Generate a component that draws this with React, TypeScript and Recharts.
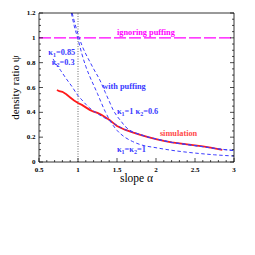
import React from 'react';
import { LineChart, Line, XAxis, YAxis, ReferenceLine, ReferenceDot } from 'recharts';

// ---- data ----
const simX = [0.73, 0.76, 0.8, 0.85, 0.9, 0.95, 1.0, 1.05, 1.1, 1.15, 1.2, 1.25, 1.3, 1.35, 1.4, 1.45, 1.5, 1.6, 1.7, 1.8, 1.9, 2.0, 2.1, 2.2, 2.3, 2.4, 2.5, 2.6, 2.7, 2.8, 2.85];
const simY = [0.58, 0.57, 0.565, 0.545, 0.52, 0.495, 0.475, 0.46, 0.44, 0.42, 0.405, 0.395, 0.38, 0.36, 0.34, 0.315, 0.29, 0.26, 0.238, 0.218, 0.2, 0.185, 0.17, 0.158, 0.15, 0.142, 0.134, 0.125, 0.115, 0.104, 0.098];

const k085X = [0.68, 0.72, 0.78, 0.85, 0.92, 1.0, 1.05, 1.1, 1.15, 1.2, 1.25, 1.3, 1.4, 1.5, 1.6, 1.7, 1.8, 1.9, 2.0, 2.2, 2.4, 2.6, 2.8, 3.0];
const k085Y = [0.83, 0.79, 0.735, 0.67, 0.61, 0.535, 0.5, 0.465, 0.435, 0.41, 0.39, 0.37, 0.335, 0.295, 0.262, 0.24, 0.22, 0.2, 0.185, 0.158, 0.14, 0.123, 0.105, 0.092];

const k06X = [0.925, 0.95, 1.0, 1.05, 1.1, 1.15, 1.2, 1.28, 1.35, 1.4, 1.45, 1.5, 1.55, 1.6, 1.65, 1.7, 1.8, 1.9, 2.0, 2.2, 2.4, 2.6, 2.8, 3.0];
const k06Y = [1.2, 1.14, 1.03, 0.94, 0.87, 0.81, 0.75, 0.66, 0.56, 0.49, 0.42, 0.37, 0.33, 0.29, 0.262, 0.243, 0.221, 0.201, 0.186, 0.159, 0.141, 0.124, 0.106, 0.093];

const k11X = [0.915, 0.95, 1.0, 1.05, 1.1, 1.15, 1.2, 1.25, 1.3, 1.35, 1.4, 1.45, 1.5, 1.6, 1.7, 1.8, 2.0, 2.25, 2.5, 2.75, 3.0];
const k11Y = [1.2, 1.1, 0.99, 0.87, 0.77, 0.69, 0.62, 0.55, 0.475, 0.405, 0.345, 0.295, 0.255, 0.2, 0.165, 0.14, 0.115, 0.09, 0.072, 0.058, 0.048];

const ignoringLevel = 1;
const slopeMarker = 1;

const xTicks = [0.5, 0.6, 0.7, 0.8, 0.9, 1.0, 1.1, 1.2, 1.3, 1.4, 1.5, 1.6, 1.7, 1.8, 1.9, 2.0, 2.1, 2.2, 2.3, 2.4, 2.5, 2.6, 2.7, 2.8, 2.9, 3.0];
const yTicks = [0, 0.05, 0.1, 0.15, 0.2, 0.25, 0.3, 0.35, 0.4, 0.45, 0.5, 0.55, 0.6, 0.65, 0.7, 0.75, 0.8, 0.85, 0.9, 0.95, 1.0, 1.05, 1.1, 1.15, 1.2];
const xMajor = [0.5, 1, 1.5, 2, 2.5, 3];
const yMajor = [0, 0.2, 0.4, 0.6, 0.8, 1, 1.2];

type Part = [string, boolean];
const annotations: { x: number; y: number; color: string; parts: Part[] }[] = [
  { x: 1.5, y: 1.024, color: '#ff00ff', parts: [['ignoring puffing', false]] },
  { x: 1.31, y: 0.59, color: '#3a3aff', parts: [['with puffing', false]] },
  { x: 1.5, y: 0.39, color: '#3a3aff', parts: [['κ', false], ['1', true], ['=1  κ', false], ['2', true], ['=0.6', false]] },
  { x: 2.05, y: 0.21, color: '#ff4a4a', parts: [['simulation', false]] },
  { x: 1.5, y: 0.08, color: '#3a3aff', parts: [['κ', false], ['1', true], ['=κ', false], ['2', true], ['=1', false]] },
  { x: 0.62, y: 0.862, color: '#3a3aff', parts: [['κ', false], ['1', true], ['=0.85', false]] },
  { x: 0.665, y: 0.785, color: '#3a3aff', parts: [['κ', false], ['2', true], ['=0.3', false]] },
];

const pts = (xs: number[], ys: number[]) => xs.map((x, i) => ({ x, y: ys[i] }));

const FONT = 'Liberation Serif, serif';
const near = (v: number, arr: number[]) => arr.some((m) => Math.abs(m - v) < 1e-6);

const BottomTick = (p: any) => {
  const v = p.payload.value;
  const major = near(v, xMajor);
  return (
    <g>
      <line x1={p.x} x2={p.x} y1={p.y} y2={p.y - (major ? 4 : 2)} stroke="#000" strokeWidth={0.7} />
      {major && (
        <text x={p.x} y={p.y + 10} textAnchor="middle" fontSize={7} fontWeight="bold" fontFamily={FONT} fill="#000">
          {String(v)}
        </text>
      )}
    </g>
  );
};
const TopTick = (p: any) => {
  const v = p.payload.value;
  const major = near(v, xMajor);
  return <line x1={p.x} x2={p.x} y1={p.y} y2={p.y + (major ? 4 : 2)} stroke="#000" strokeWidth={0.7} />;
};
const LeftTick = (p: any) => {
  const v = p.payload.value;
  const major = near(v, yMajor);
  return (
    <g>
      <line x1={p.x} x2={p.x + (major ? 4 : 2)} y1={p.y} y2={p.y} stroke="#000" strokeWidth={0.7} />
      {major && (
        <text x={p.x - 3.5} y={p.y + 2} textAnchor="end" fontSize={7} fontWeight="bold" fontFamily={FONT} fill="#000">
          {String(v)}
        </text>
      )}
    </g>
  );
};
const RightTick = (p: any) => {
  const v = p.payload.value;
  const major = near(v, yMajor);
  return <line x1={p.x} x2={p.x - (major ? 4 : 2)} y1={p.y} y2={p.y} stroke="#000" strokeWidth={0.7} />;
};

const XTitle = (p: any) => {
  const vb = p.viewBox;
  return (
    <text x={vb.x + vb.width / 2} y={vb.y + 20} textAnchor="middle" fontSize={11.5} fontFamily={FONT} fill="#000">
      slope α
    </text>
  );
};
const YTitle = (p: any) => {
  const vb = p.viewBox;
  const cx = vb.x + vb.width - 20;
  const cy = vb.y + vb.height / 2;
  return (
    <text x={cx} y={cy} transform={`rotate(-90 ${cx} ${cy})`} textAnchor="middle" fontSize={11} fontFamily={FONT} fill="#000">
      density ratio ψ
    </text>
  );
};

const makeLabel = (a: { color: string; parts: Part[] }) => (p: any) => (
  <text x={p.cx} y={p.cy} fontSize={8.3} fontWeight="bold" fontFamily={FONT} fill={a.color}>
    {a.parts.map(([s, sub], i) => (
      <tspan key={i} dy={sub ? 2 : i > 0 && a.parts[i - 1][1] ? -2 : 0} fontSize={sub ? 6 : 8.3}>
        {s}
      </tspan>
    ))}
  </text>
);

const blue = '#3c3cff';

export default function App() {
  return (
    <LineChart width={247} height={247} margin={{ top: 4, right: 20, bottom: 92, left: 30 }}>
      <XAxis
        type="number"
        dataKey="x"
        domain={[0.5, 3]}
        ticks={xTicks}
        interval={0}
        tickSize={0}
        tickMargin={0}
        height={1}
        tick={<BottomTick />}
        tickLine={false}
        axisLine={{ stroke: '#000', strokeWidth: 0.8 }}
        allowDataOverflow
        label={{ content: XTitle }}
      />
      <XAxis
        xAxisId="top"
        orientation="top"
        type="number"
        domain={[0.5, 3]}
        ticks={xTicks}
        interval={0}
        tickSize={0}
        tickMargin={0}
        height={1}
        tick={<TopTick />}
        tickLine={false}
        axisLine={{ stroke: '#000', strokeWidth: 0.8 }}
        allowDataOverflow
      />
      <YAxis
        type="number"
        domain={[0, 1.2]}
        ticks={yTicks}
        interval={0}
        tickSize={0}
        tickMargin={0}
        width={1}
        tick={<LeftTick />}
        tickLine={false}
        axisLine={{ stroke: '#000', strokeWidth: 0.8 }}
        allowDataOverflow
        label={{ content: YTitle }}
      />
      <YAxis
        yAxisId="right"
        orientation="right"
        type="number"
        domain={[0, 1.2]}
        ticks={yTicks}
        interval={0}
        tickSize={0}
        tickMargin={0}
        width={1}
        tick={<RightTick />}
        tickLine={false}
        axisLine={{ stroke: '#000', strokeWidth: 0.8 }}
        allowDataOverflow
      />
      <ReferenceLine x={slopeMarker} stroke="#444" strokeWidth={0.8} strokeDasharray="1 1.5" />
      <ReferenceLine y={ignoringLevel} stroke="#ff00ff" strokeWidth={1.2} strokeDasharray="12 3" />
      <Line data={pts(simX, simY)} dataKey="y" stroke="#ff1a1a" strokeWidth={1.8} dot={false} type="linear" isAnimationActive={false} />
      <Line data={pts(k085X, k085Y)} dataKey="y" stroke={blue} strokeWidth={1} strokeDasharray="3.5 2.5" dot={false} type="monotone" isAnimationActive={false} />
      <Line data={pts(k06X, k06Y)} dataKey="y" stroke={blue} strokeWidth={1} strokeDasharray="3.5 2.5" dot={false} type="monotone" isAnimationActive={false} />
      <Line data={pts(k11X, k11Y)} dataKey="y" stroke={blue} strokeWidth={1} strokeDasharray="3.5 2.5" dot={false} type="monotone" isAnimationActive={false} />
      {annotations.map((a, i) => (
        <ReferenceDot key={i} x={a.x} y={a.y} r={0} shape={makeLabel(a)} />
      ))}
    </LineChart>
  );
}
